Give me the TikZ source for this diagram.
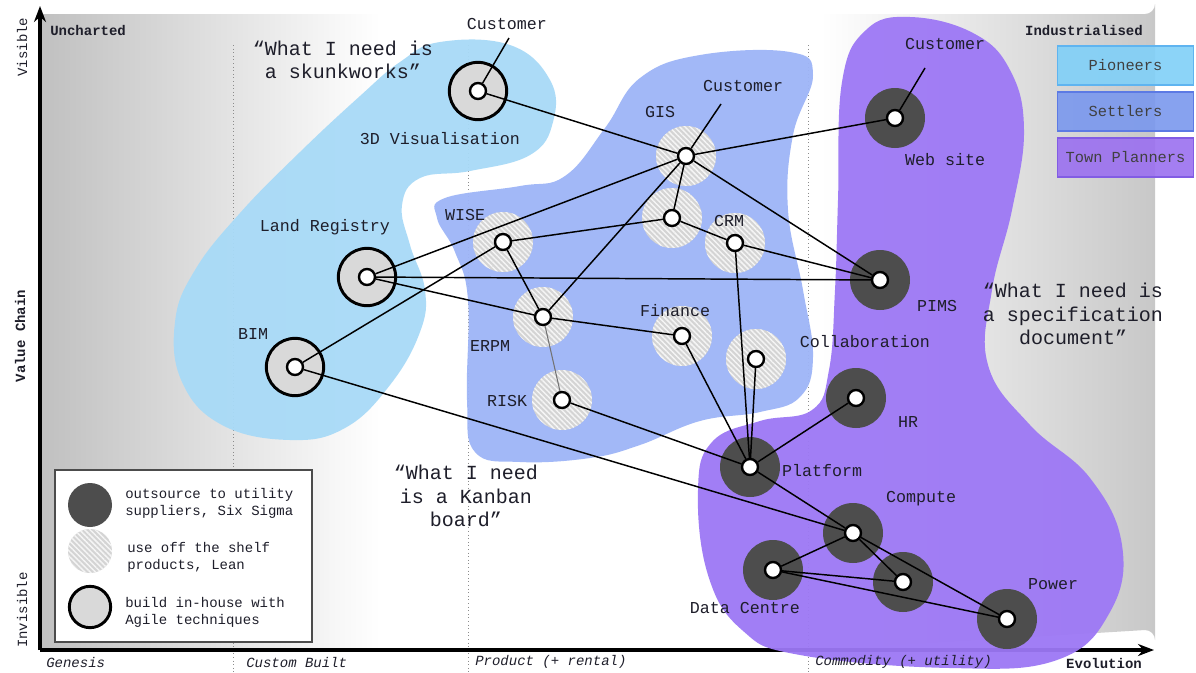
\documentclass[tikz,border=0pt]{standalone}
\usepackage{fontspec}
\setmainfont{Liberation Mono}
\usetikzlibrary{patterns.meta,arrows.meta}
\definecolor{pion}{RGB}{168,218,247}
\definecolor{sett}{RGB}{158,181,247}
\definecolor{town}{RGB}{157,120,245}
\definecolor{darkc}{RGB}{77,77,77}
\definecolor{ringc}{RGB}{217,217,217}
\definecolor{hatchc}{RGB}{212,212,212}
\definecolor{txt}{RGB}{30,30,42}
\definecolor{bgL}{RGB}{192,192,192}
\definecolor{bgR}{RGB}{200,200,200}
\definecolor{pionbox}{RGB}{128,208,248}
\definecolor{pionbd}{RGB}{95,180,240}
\definecolor{settbox}{RGB}{122,152,238}
\definecolor{settbd}{RGB}{92,122,228}
\definecolor{townbox}{RGB}{155,112,240}
\definecolor{townbd}{RGB}{130,92,228}
\newcommand\lblf{\fontsize{12.5}{15}\selectfont}
\newcommand\quotf{\fontsize{15}{17.4}\selectfont}
\newcommand\smallf{\fontsize{10.5}{12.8}\selectfont}
\newcommand\boxf{\fontsize{11.5}{13}\selectfont}
\pgfdeclarelayer{bg}\pgfdeclarelayer{blobs}\pgfdeclarelayer{outer}\pgfdeclarelayer{edges}
\pgfsetlayers{bg,blobs,outer,edges,main}
\begin{document}
\begin{tikzpicture}[x=0.75pt,y=-0.75pt,
  ring/.style={circle,draw=black,line width=2.2pt,fill=ringc,minimum size=43pt,inner sep=0pt},
  dark/.style={circle,fill=darkc,minimum size=45pt,inner sep=0pt},
  hatch/.style={circle,preaction={fill=hatchc},pattern={Lines[angle=-45,distance=2.8pt,line width=1.1pt]},pattern color=white!96!black,minimum size=45pt,inner sep=0pt},
  dot/.style={circle,draw=black,line width=1.8pt,fill=white,minimum size=12pt,inner sep=0pt},
  lbl/.style={font=\lblf,text=txt,inner sep=0pt},
  quot/.style={font=\quotf,text=txt,align=center,inner sep=0pt},
  edge/.style={line width=1.1pt,black},
  stage/.style={font=\smallf\itshape,text=txt,anchor=west,inner sep=0pt},
  keytext/.style={font=\smallf,text=txt,align=left,anchor=west,inner sep=0pt},
  keybox/.style={font=\boxf,text=black!75,minimum width=102pt,minimum height=29pt,line width=1.2pt,inner sep=0pt,fill opacity=0.9,text opacity=1},
  blob/.style={fill opacity=0.95}]
\useasboundingbox (0,0) rectangle (1196,672);
% background
\begin{pgfonlayer}{bg}
\fill[white] (0,0) rectangle (1196,672);
\shade[left color=bgL,right color=white] (40,14) rectangle (380,650);
\shade[left color=white,right color=bgR] (820,14) -- (1145,14) arc[start angle=90,end angle=0,radius=10] -- (1155,640) arc[start angle=0,end angle=-90,radius=10] -- (820,650) -- cycle;
\foreach \xx in {233,468,808} \draw[dotted,black!45,line width=0.7pt] (\xx,45) -- (\xx,672);
\coordinate (o) at (40,650);
\coordinate (ytop) at (40,6);
\coordinate (xend) at (1154,650);
\draw[line width=2.4pt,-{Stealth[length=12pt,width=9pt]}] (o) -- (ytop);
\draw[line width=2.4pt,-{Stealth[length=12pt,width=9pt]}] (o) -- (xend);
\end{pgfonlayer}
% blobs
\begin{pgfonlayer}{blobs}
\fill[pion,blob] plot[smooth cycle,tension=0.7] coordinates {(440,42) (510,45) (550,80) (553,122) (530,155) (470,171) (420,178) (402,205) (410,245) (425,290) (420,332) (390,385) (345,428) (290,440) (222,425) (182,382) (175,322) (195,270) (240,213) (300,152) (360,96) (400,62)};
\fill[sett,blob] plot[smooth cycle,tension=0.7] coordinates {(445,198) (520,186) (565,176) (605,128) (640,78) (700,55) (790,52) (813,75) (793,135) (788,210) (803,290) (813,357) (800,397) (760,412) (700,421) (640,445) (590,458) (520,462) (475,452) (467,400) (468,300) (455,252) (437,218)};
\fill[town,blob] plot[smooth cycle,tension=0.7] coordinates {(910,17) (973,33) (1010,70) (1024,130) (1012,210) (992,290) (988,365) (1030,425) (1090,478) (1122,545) (1110,612) (1057,660) (950,668) (800,655) (742,630) (708,575) (698,490) (712,442) (760,421) (812,410) (829,370) (835,290) (838,200) (842,82) (866,30)};
\end{pgfonlayer}
% element circles
\begin{pgfonlayer}{outer}
\node[ring]  (vis)  at (478,91)  {};
\node[hatch] (gis)  at (686,156) {};
\node[dark]  (web)  at (895,118) {};
\node[hatch] (un1)  at (672,218) {};
\node[hatch] (crm)  at (735,243) {};
\node[hatch] (wise) at (503,242) {};
\node[ring]  (lr)   at (367,277) {};
\node[dark]  (pims) at (880,280) {};
\node[hatch] (erpm) at (543,317) {};
\node[hatch] (fin)  at (682,336) {};
\node[hatch] (col)  at (756,359) {};
\node[ring]  (bim)  at (295,367) {};
\node[hatch] (risk) at (562,400) {};
\node[dark]  (hr)   at (856,398) {};
\node[dark]  (plat) at (750,467) {};
\node[dark]  (comp) at (853,533) {};
\node[dark]  (dc)   at (773,570) {};
\node[dark]  (un2)  at (903,582) {};
\node[dark]  (pow)  at (1007,619) {};
\end{pgfonlayer}
% dots
\foreach \n in {vis,gis,web,un1,crm,wise,lr,pims,erpm,fin,col,bim,risk,hr,plat,comp,dc,un2,pow}
  \node[dot] (\n d) at (\n.center) {};
% labels
\node[lbl] (cust1) at (507,24) {Customer};
\node[lbl] at (440,139) {3D Visualisation};
\node[lbl] (cust2) at (743,86) {Customer};
\node[lbl] at (660,112) {GIS};
\node[lbl] (cust3) at (945,44) {Customer};
\node[lbl] at (945,160) {Web site};
\node[lbl] at (465,215) {WISE};
\node[lbl] at (729,221) {CRM};
\node[lbl] at (325,227) {Land Registry};
\node[lbl] at (937,306) {PIMS};
\node[lbl] at (490,346) {ERPM};
\node[lbl] at (675,311) {Finance};
\node[lbl] at (865,342) {Collaboration};
\node[lbl] at (253,334) {BIM};
\node[lbl] at (507,401) {RISK};
\node[lbl] at (908,422) {HR};
\node[lbl] at (822,471) {Platform};
\node[lbl] at (921,499) {Compute};
\node[lbl] at (745,608) {Data Centre};
\node[lbl] at (1053,584) {Power};
\coordinate (c1) at (509,38);
\coordinate (c2) at (721,104);
\coordinate (c3) at (925,68);
% connectors
\begin{pgfonlayer}{edges}
\draw[edge] (visd) -- (c1);
\draw[edge] (gisd) -- (c2);
\draw[edge] (webd) -- (c3);
\draw[edge] (visd) -- (gisd);
\draw[edge] (gisd) -- (webd);
\draw[edge] (lrd) -- (gisd);
\draw[edge] (lrd) -- (pimsd);
\draw[edge] (lrd) -- (erpmd);
\draw[edge] (erpmd) -- (find);
\draw[edge] (bimd) -- (wised);
\draw[edge] (bimd) -- (compd);
\draw[edge] (wised) -- (erpmd);
\draw[edge] (wised) -- (un1d);
\draw[edge] (un1d) -- (gisd);
\draw[edge] (un1d) -- (crmd);
\draw[edge] (crmd) -- (pimsd);
\draw[edge] (gisd) -- (pimsd);
\draw[edge] (gisd) -- (erpmd);
\draw[line width=0.8pt,black!55] (erpmd) -- (riskd);
\draw[edge] (riskd) -- (platd);
\draw[edge] (find) -- (platd);
\draw[edge] (crmd) -- (platd);
\draw[edge] (cold) -- (platd);
\draw[edge] (hrd) -- (platd);
\draw[edge] (platd) -- (compd);
\draw[edge] (compd) -- (dcd);
\draw[edge] (compd) -- (un2d);
\draw[edge] (compd) -- (powd);
\draw[edge] (dcd) -- (un2d);
\draw[edge] (dcd) -- (powd);
\end{pgfonlayer}
% quotes
\node[quot] at (343,60) {“What I need is\\ a skunkworks”};
\node[quot] at (466,496) {“What I need\\is a Kanban\\board”};
\node[quot] at (1073,314) {“What I need is\\a specification\\document”};
% axis texts
\node[font=\smallf\bfseries,text=txt,anchor=west,inner sep=0pt] at (50,30) {Uncharted};
\node[font=\smallf\bfseries,text=txt,anchor=east,inner sep=0pt] at (1143,30) {Industrialised};
\node[font=\smallf\bfseries,text=txt,inner sep=0pt] at (1104,663) {Evolution};
\node[font=\smallf\bfseries,text=txt,rotate=90,inner sep=0pt] at (20,336) {Value Chain};
\node[font=\smallf,text=txt,rotate=90,inner sep=0pt] at (22,47) {Visible};
\node[font=\smallf,text=txt,rotate=90,inner sep=0pt] at (22,610) {Invisible};
\node[stage] at (46,662) {Genesis};
\node[stage] at (246,662) {Custom Built};
\node[stage] at (475,662) {Product (+ rental)};
\node[stage] at (815,662) {Commodity (+ utility)};
% key boxes
\node[keybox,draw=pionbd,fill=pionbox] at (1125.5,65.5) {Pioneers};
\node[keybox,draw=settbd,fill=settbox] at (1125.5,111.5) {Settlers};
\node[keybox,draw=townbd,fill=townbox] at (1125.5,157.5) {Town Planners};
% legend
\draw[draw=black!70,fill=white,line width=1.2pt] (55,470) rectangle (312,642);
\node[dark,minimum size=33pt] (k1) at (90,505) {};
\node[hatch,minimum size=33pt] (k2) at (90,551) {};
\node[ring,minimum size=31pt] (k3) at (90,607) {};
\node[keytext] at (125,503) {outsource to utility\\suppliers, Six Sigma};
\node[keytext] at (127,557) {use off the shelf\\products, Lean};
\node[keytext] at (125,612) {build in-house with\\Agile techniques};
\end{tikzpicture}
\end{document}
